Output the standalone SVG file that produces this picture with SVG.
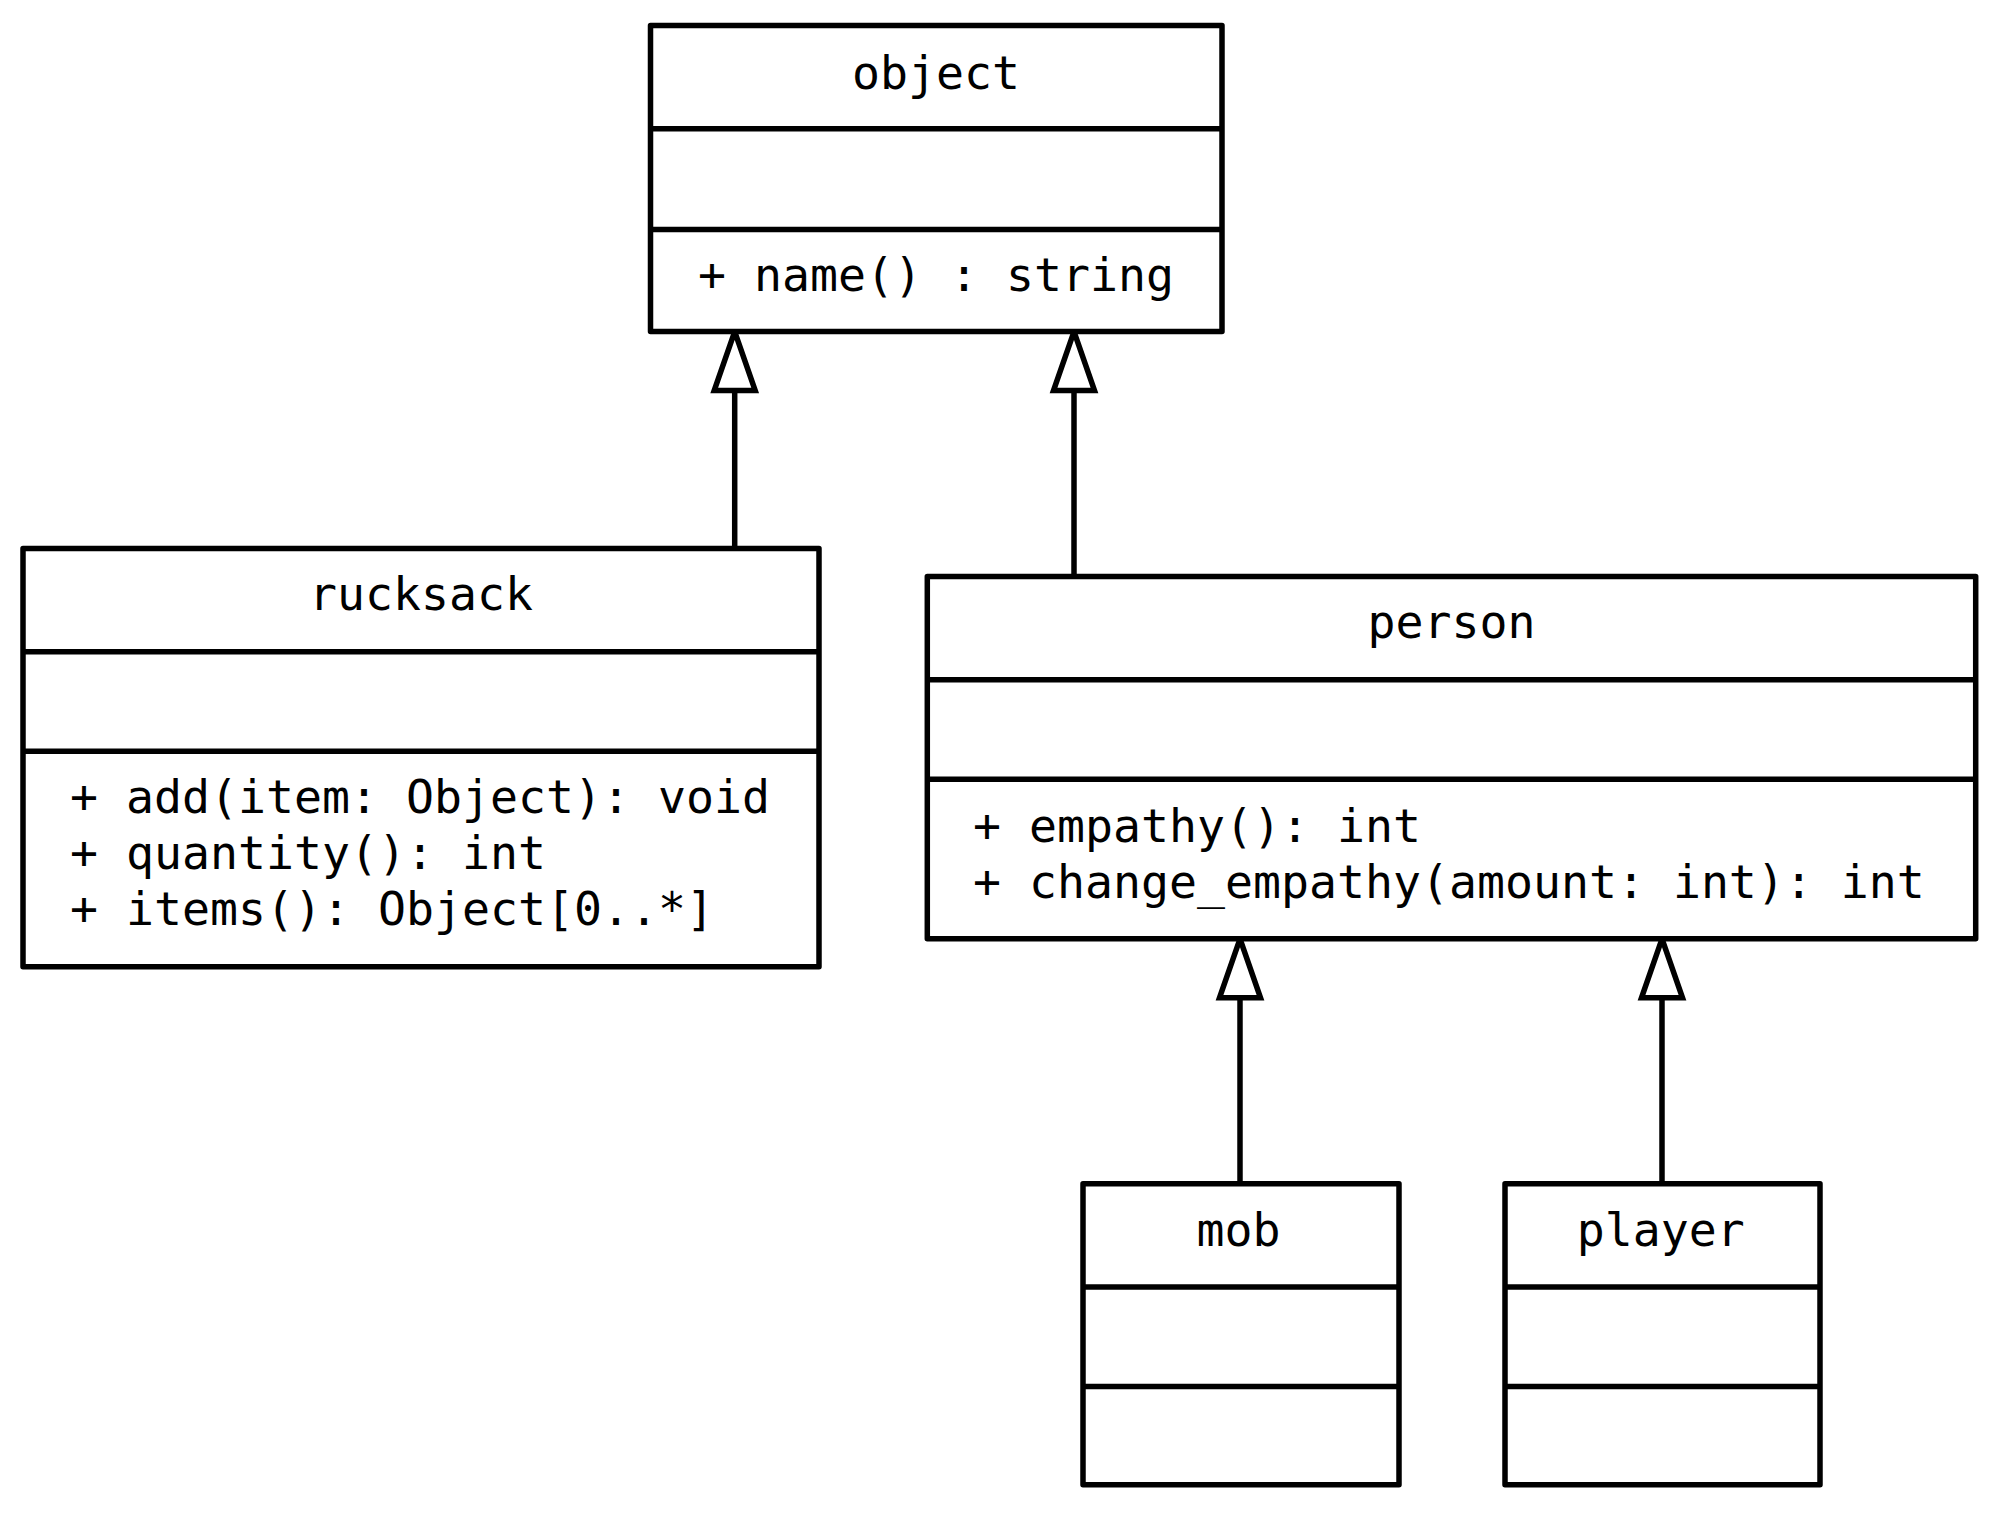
<svg xmlns="http://www.w3.org/2000/svg" width="2000" height="1513" viewBox="0 0 2000 1513">
<style>
.box{fill:#fff;stroke:#000;stroke-width:5.5;stroke-linejoin:round}
.div{stroke:#000;stroke-width:5.5}
.conn{stroke:#000;stroke-width:5.5;fill:none}
text{font-family:"DejaVu Sans Mono","Liberation Mono",monospace;font-size:46.5px;fill:#000}
.c{text-anchor:middle}
</style>
<defs>
<marker id="gen" markerUnits="userSpaceOnUse" markerWidth="70" markerHeight="52" viewBox="-64 -26 70 52" refX="0" refY="0" orient="auto">
<path d="M0,0 L-59,-20.5 L-59,20.5 Z" fill="#fff" stroke="#000" stroke-width="5.5" stroke-linejoin="miter"/>
</marker>
</defs>
<rect width="2000" height="1513" fill="#fff"/>
<g id="connectors">
<line class="conn" x1="734.7" y1="548.5" x2="734.7" y2="331.6" marker-end="url(#gen)"/>
<line class="conn" x1="1074" y1="576.5" x2="1074" y2="331.6" marker-end="url(#gen)"/>
<line class="conn" x1="1240" y1="1183.7" x2="1240" y2="938.8" marker-end="url(#gen)"/>
<line class="conn" x1="1662" y1="1183.7" x2="1662" y2="938.8" marker-end="url(#gen)"/>
</g>
<g id="object">
<rect class="box" x="650.5" y="25.5" width="571.5" height="306.1"/>
<line class="div" x1="650.5" y1="128.8" x2="1222" y2="128.8"/>
<line class="div" x1="650.5" y1="229.6" x2="1222" y2="229.6"/>
<text class="c" x="936" y="89">object</text>
<text x="698" y="291">+ name() : string</text>
</g>
<g id="rucksack">
<rect class="box" x="23" y="548.5" width="796" height="418.3"/>
<line class="div" x1="23" y1="651.8" x2="819" y2="651.8"/>
<line class="div" x1="23" y1="751.3" x2="819" y2="751.3"/>
<text class="c" x="421" y="610">rucksack</text>
<text x="70" y="812.5">+ add(item: Object): void</text>
<text x="70" y="868.6">+ quantity(): int</text>
<text x="70" y="924.7">+ items(): Object[0..*]</text>
</g>
<g id="person">
<rect class="box" x="927.3" y="576.5" width="1048.4" height="362.3"/>
<line class="div" x1="927.3" y1="679.8" x2="1975.7" y2="679.8"/>
<line class="div" x1="927.3" y1="779.3" x2="1975.7" y2="779.3"/>
<text class="c" x="1451.5" y="638">person</text>
<text x="973" y="842">+ empathy(): int</text>
<text x="973" y="898">+ change_empathy(amount: int): int</text>
</g>
<g id="mob">
<rect class="box" x="1083" y="1183.7" width="316" height="301"/>
<line class="div" x1="1083" y1="1287" x2="1399" y2="1287"/>
<line class="div" x1="1083" y1="1386.5" x2="1399" y2="1386.5"/>
<text class="c" x="1238.5" y="1246">mob</text>
</g>
<g id="player">
<rect class="box" x="1505" y="1183.7" width="315" height="301"/>
<line class="div" x1="1505" y1="1287" x2="1820" y2="1287"/>
<line class="div" x1="1505" y1="1386.5" x2="1820" y2="1386.5"/>
<text class="c" x="1660.7" y="1246">player</text>
</g>
</svg>
